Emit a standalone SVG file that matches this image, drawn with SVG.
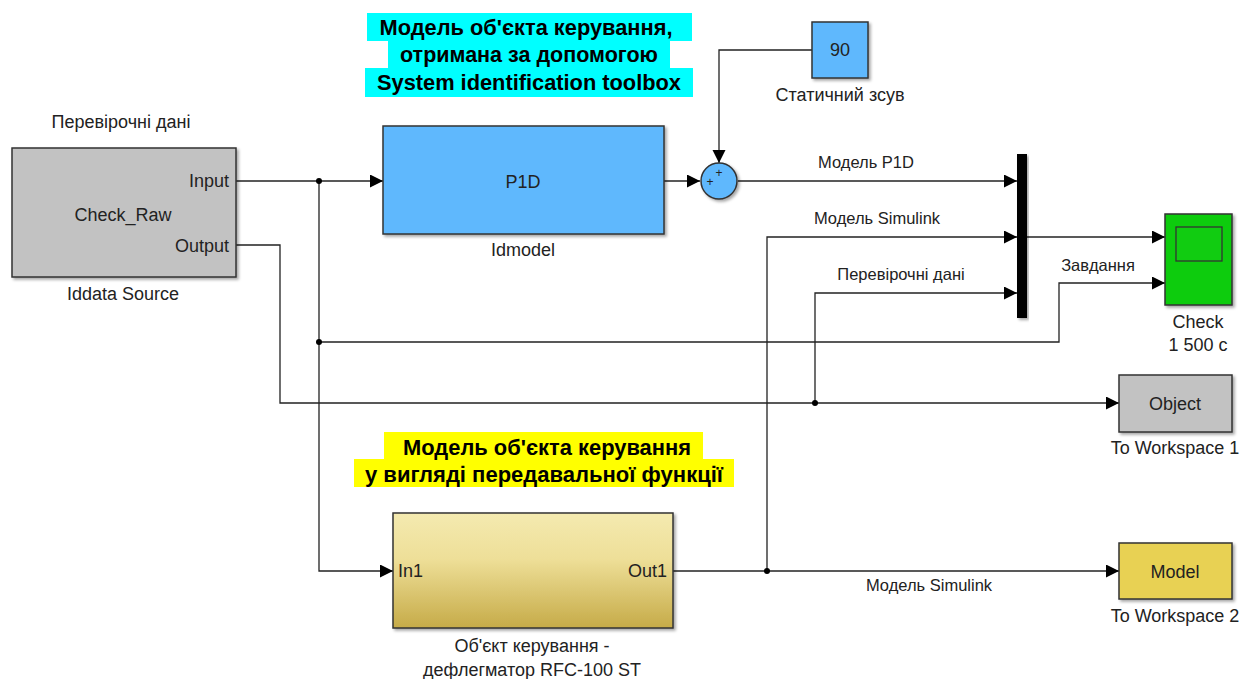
<svg xmlns="http://www.w3.org/2000/svg" width="1243" height="679" viewBox="0 0 1243 679">
<style>
text{font-family:"Liberation Sans",Arial,sans-serif;fill:#222}
.lb{font-size:18px}
.cl{font-size:16.5px}
.ti{font-size:22px;font-weight:bold;fill:#000}
.blk{stroke:#333;stroke-width:1.5}
.ln{fill:none;stroke:#222;stroke-width:1.3}
.dot{fill:#000}
</style>
<defs>
<marker id="ar" markerUnits="userSpaceOnUse" markerWidth="14" markerHeight="14" refX="13" refY="6.5" orient="auto">
<path d="M0,0 L13,6.5 L0,13 z" fill="#000"/>
</marker>
<filter id="sh" x="-10%" y="-10%" width="130%" height="130%">
<feDropShadow dx="2" dy="2" stdDeviation="1.5" flood-color="#000" flood-opacity="0.35"/>
</filter>
<linearGradient id="gy" x1="0" y1="0" x2="0" y2="1">
<stop offset="0" stop-color="#f4eab0"/>
<stop offset="0.4" stop-color="#eedf98"/>
<stop offset="1" stop-color="#c6ab48"/>
</linearGradient>
</defs>

<g id="title1">
<rect x="367" y="13" width="325" height="28" fill="#00ffff"/>
<rect x="388" y="41" width="282" height="27" fill="#00ffff"/>
<rect x="365" y="68" width="328" height="29" fill="#00ffff"/>
<text class="ti" x="526" y="35" text-anchor="middle" textLength="293" lengthAdjust="spacingAndGlyphs">Модель об'єкта керування,</text>
<text class="ti" x="529" y="62" text-anchor="middle" textLength="258" lengthAdjust="spacingAndGlyphs">отримана за допомогою</text>
<text class="ti" x="529" y="90" text-anchor="middle" textLength="304" lengthAdjust="spacingAndGlyphs">System identification toolbox</text>
</g>

<g id="title2">
<rect x="384" y="432" width="319" height="27" fill="#ffff00"/>
<rect x="354" y="459" width="380" height="28" fill="#ffff00"/>
<text class="ti" x="547" y="455" text-anchor="middle" textLength="288" lengthAdjust="spacingAndGlyphs">Модель об'єкта керування</text>
<text class="ti" x="544" y="482" text-anchor="middle" textLength="358" lengthAdjust="spacingAndGlyphs">у вигляді передавальної функції</text>
</g>

<g id="connectors">
<polyline class="ln" points="236,181 383,181" marker-end="url(#ar)"/>
<polyline class="ln" points="319,181 319,571 393,571" marker-end="url(#ar)"/>
<polyline class="ln" points="319,342 1059,342 1059,283 1165,283" marker-end="url(#ar)"/>
<polyline class="ln" points="236,245 280,245 280,403 1119,403" marker-end="url(#ar)"/>
<polyline class="ln" points="815,403 815,293 1017,293" marker-end="url(#ar)"/>
<polyline class="ln" points="673,571 1119,571" marker-end="url(#ar)"/>
<polyline class="ln" points="767,571 767,237 1017,237" marker-end="url(#ar)"/>
<polyline class="ln" points="664,181 700,181" marker-end="url(#ar)"/>
<polyline class="ln" points="738,181 1017,181" marker-end="url(#ar)"/>
<polyline class="ln" points="812,50 719,50 719,163" marker-end="url(#ar)"/>
<polyline class="ln" points="1027,237 1165,237" marker-end="url(#ar)"/>
<circle class="dot" cx="319" cy="181" r="3"/>
<circle class="dot" cx="319" cy="342" r="3"/>
<circle class="dot" cx="815" cy="403" r="3"/>
<circle class="dot" cx="767" cy="571" r="3"/>
<text class="cl" x="866" y="168" text-anchor="middle">Модель P1D</text>
<text class="cl" x="877" y="224" text-anchor="middle">Модель Simulink</text>
<text class="cl" x="901" y="280" text-anchor="middle">Перевірочні дані</text>
<text class="cl" x="1098" y="271" text-anchor="middle">Завдання</text>
<text class="cl" x="929" y="591" text-anchor="middle">Модель Simulink</text>
</g>

<g id="iddata">
<rect class="blk" x="12" y="148" width="224" height="129" fill="#c2c2c2" filter="url(#sh)"/>
<text class="lb" x="121" y="128" text-anchor="middle">Перевірочні дані</text>
<text class="lb" x="229" y="187" text-anchor="end">Input</text>
<text class="lb" x="123" y="221" text-anchor="middle">Check_Raw</text>
<text class="lb" x="229" y="252" text-anchor="end">Output</text>
<text class="lb" x="123" y="300" text-anchor="middle">Iddata Source</text>
</g>

<g id="idmodel">
<rect class="blk" x="383" y="126" width="281" height="108" fill="#5fb8fd" filter="url(#sh)"/>
<text class="lb" x="523" y="188" text-anchor="middle">P1D</text>
<text class="lb" x="523" y="256" text-anchor="middle">Idmodel</text>
</g>

<g id="sum">
<circle class="blk" cx="719" cy="181" r="18" fill="#5fb8fd" filter="url(#sh)"/>
<text x="719" y="177" font-size="12" text-anchor="middle" fill="#000">+</text>
<text x="710" y="186" font-size="12" text-anchor="middle" fill="#000">+</text>
</g>

<g id="const">
<rect class="blk" x="812" y="22" width="56" height="56" fill="#5fb8fd" filter="url(#sh)"/>
<text class="lb" x="840" y="56" text-anchor="middle">90</text>
<text class="lb" x="840" y="101" text-anchor="middle">Статичний зсув</text>
</g>

<g id="mux">
<rect x="1017" y="154" width="10" height="164" fill="#000" filter="url(#sh)"/>
</g>

<g id="scope">
<rect class="blk" x="1165" y="214" width="67" height="91" fill="#11cc11" filter="url(#sh)"/>
<rect x="1176" y="227" width="46" height="34" fill="#11cc11" stroke="#333" stroke-width="1.3"/>
<text class="lb" x="1198" y="328" text-anchor="middle">Check</text>
<text class="lb" x="1198" y="351" text-anchor="middle">1 500 с</text>
</g>

<g id="ws1">
<rect class="blk" x="1119" y="375" width="113" height="57" fill="#c2c2c2" filter="url(#sh)"/>
<text class="lb" x="1175" y="410" text-anchor="middle">Object</text>
<text class="lb" x="1175" y="454" text-anchor="middle">To Workspace 1</text>
</g>

<g id="ws2">
<rect class="blk" x="1119" y="543" width="113" height="56" fill="#e8d152" filter="url(#sh)"/>
<text class="lb" x="1175" y="578" text-anchor="middle">Model</text>
<text class="lb" x="1175" y="622" text-anchor="middle">To Workspace 2</text>
</g>

<g id="subsystem">
<rect class="blk" x="393" y="513" width="280" height="115" fill="url(#gy)" filter="url(#sh)"/>
<text class="lb" x="398" y="577">In1</text>
<text class="lb" x="667" y="577" text-anchor="end">Out1</text>
<text class="lb" x="532" y="652" text-anchor="middle">Об'єкт керування -</text>
<text class="lb" x="532" y="676" text-anchor="middle">дефлегматор RFC-100 ST</text>
</g>
</svg>
